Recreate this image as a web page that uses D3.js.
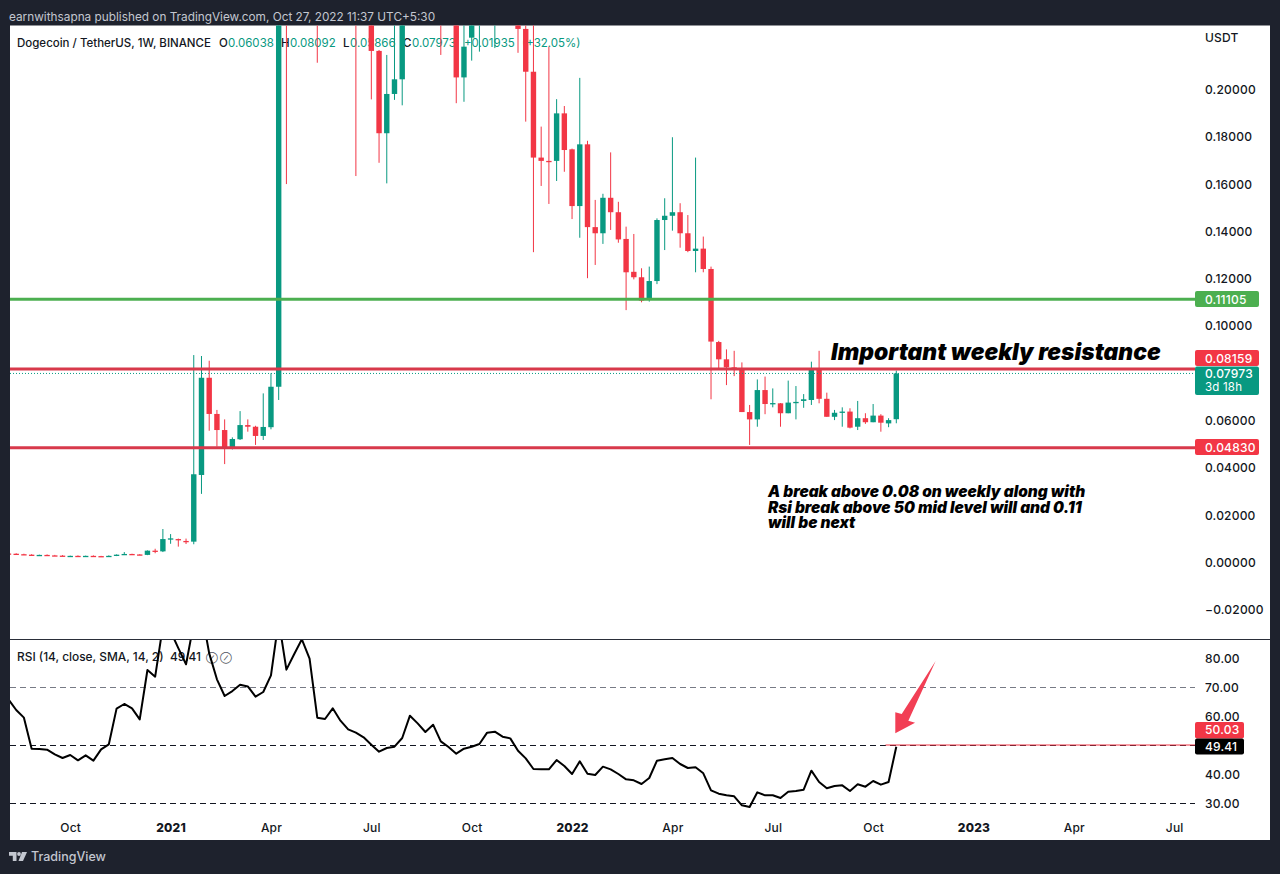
<!DOCTYPE html>
<html>
<head>
<meta charset="utf-8">
<script src="https://cdnjs.cloudflare.com/ajax/libs/d3/7.8.5/d3.min.js"></script>
<style>
  html, body { margin: 0; padding: 0; background: #1e222d; }
  svg { display: block; }
  text { font-family: Inter, "Noto Sans", sans-serif; }
  .axis text { font-size: 12px; fill: #131722; letter-spacing: 0.2px; font-weight: 500; }
  .axis path, .axis line { display: none; }
</style>
</head>
<body>
<div id="chart"></div>
<script>
// weekly candles. first one sits just behind the left edge
const opens = [
  .0036,.0035,.0033,.0031,.0028,.0030,.0028,.0027,.0025,.0026,
  .0025,.0026,.0025,.0025,.0026,.0031,.0034,.0032,.0030,.0048,
  .0045,.0096,.0097,.0089,.0086,.0368,.0779,.0626,.0558,.0481,
  .0519,.0579,.0572,.0533,.0570,.0741,.345,.31,.38,.40,
  .49,.36,.50,.40,.37,.33,.30,.32,.2161,.1813,
  .1979,.2041,.255,.27,.26,.29,.33,.25,.24,.2049,
  .2217,.242,.265,.27,.275,.28,.2654,.2254,.2073,.1710,
  .1696,.1696,.1897,.1745,.1505,.1766,.1416,.1390,.1540,.1479,
  .1366,.1227,.1204,.1108,.1188,.1446,.1464,.1479,.1390,.1315,
  .1325,.1239,.0930,.0857,.0823,.0812,.0634,.0603,.0727,.0670,
  .0671,.0629,.0675,.0681,.0685,.0815,.0690,.0614,.0634,.0636,
  .0572,.0608,.0591,.0619,.0586,.06038
];
const highs = [
  .0038,.0037,.0035,.0033,.0031,.0032,.0030,.0029,.0027,.0028,
  .0027,.0028,.0026,.0028,.0032,.0042,.0035,.0033,.0049,.0056,
  .01395,.0118,.0099,.0099,.0875,.0871,.0851,.0643,.0603,.0527,
  .0638,.0603,.0576,.0713,.0798,.35,.45,.42,.45,.70,
  .74,.55,.52,.47,.44,.45,.36,.34,.2165,.2144,
  .27,.29,.29,.29,.30,.35,.36,.27,.26,.25,
  .26,.275,.275,.29,.30,.31,.285,.2270,.26,.1841,
  .2179,.1957,.1928,.1748,.2047,.1781,.1531,.1557,.1732,.1523,
  .1418,.1387,.1242,.1249,.1453,.1538,.1796,.1517,.1467,.1710,
  .1376,.1249,.0935,.0899,.0893,.0844,.0664,.0772,.0784,.0734,
  .0672,.0767,.0744,.0710,.0847,.0893,.0716,.0643,.0654,.0650,
  .0681,.0629,.0668,.0625,.0608,.08092
];
const lows = [
  .0033,.0032,.0030,.0029,.0027,.0027,.0026,.0025,.0024,.0025,
  .0024,.0024,.0023,.0024,.0025,.0030,.0031,.0029,.0029,.0037,
  .0042,.0077,.0065,.0076,.0075,.0288,.0555,.0488,.0414,.0476,
  .0516,.0551,.0495,.0516,.0561,.0685,.1598,.26,.34,.38,
  .2111,.30,.36,.34,.32,.1632,.24,.1956,.1688,.1601,
  .1954,.1931,.235,.24,.25,.28,.2144,.235,.194,.1946,
  .2120,.2158,.24,.2173,.26,.255,.2153,.1862,.1310,.1590,
  .1514,.1611,.1650,.1450,.1371,.1200,.1256,.1345,.1404,.1350,
  .1065,.1195,.1098,.1101,.1175,.1319,.1401,.1329,.1310,.1225,
  .1225,.0688,.0819,.0748,.0786,.0634,.0495,.0572,.0625,.0654,
  .0572,.0629,.0603,.0652,.0664,.0671,.0614,.0600,.0572,.0565,
  .0558,.0584,.0591,.0551,.0570,.05866
];
const closes = [
  .0035,.0033,.0031,.0030,.0030,.0028,.0027,.0026,.0026,.0025,
  .0026,.0025,.0024,.0026,.0031,.0034,.0032,.0030,.0048,.0044,
  .0097,.0100,.0092,.0087,.0371,.0779,.0626,.0558,.0481,.0520,
  .0579,.0572,.0533,.0571,.0741,.33,.31,.38,.40,.49,
  .36,.50,.40,.37,.33,.30,.32,.2161,.1813,.1979,
  .2041,.255,.27,.26,.29,.33,.25,.24,.2049,.2179,
  .242,.265,.27,.275,.28,.2654,.2254,.2073,.1710,.1696,
  .1694,.1897,.1742,.1505,.1766,.1416,.1390,.1540,.1479,.1364,
  .1225,.1204,.1105,.1188,.1446,.1464,.1479,.1390,.1315,.1325,
  .1239,.0932,.0857,.0823,.0812,.0634,.0603,.0727,.0668,.0672,
  .0629,.0674,.0677,.0688,.0815,.0690,.0614,.0631,.0636,.0568,
  .0608,.0591,.0619,.0589,.0600,.07973
];
const rsiValues = [
  65.75,62.07,59.43,48.74,48.62,48.39,46.78,45.52,46.56,44.72,
  46.44,44.60,48.51,50.23,62.53,64.14,62.65,58.85,75.87,73.57,
  91.0,89.2,83.4,77.82,91.96,96.3,81.6,72.65,66.9,68.6,
  70.8,70.2,66.67,68.28,74.03,93.1,75.98,81.27,86.44,79.77,
  59.42,58.96,62.64,58.39,55.40,54.25,52.64,50.11,47.70,48.96,
  49.42,52.41,60.11,57.47,54.48,57.0,51.26,49.31,47.01,48.73,
  49.42,50.34,54.25,54.59,52.87,52.29,48.04,45.40,41.72,41.61,
  41.61,44.82,42.75,40.0,44.36,40.11,39.65,42.53,41.61,40.0,
  38.16,37.82,36.55,38.62,44.60,45.06,45.52,43.45,42.07,42.30,
  40.23,34.37,33.22,32.65,32.30,29.20,28.62,33.68,32.65,32.65,
  31.72,33.91,34.14,34.60,41.15,37.24,35.06,35.86,36.09,34.14,
  36.44,35.63,37.59,36.32,37.24,49.41
];

// 0.08 and 50 sit behind the price tags in the picture, so they are left out
const priceTicks = [-0.02, 0, 0.02, 0.04, 0.06, 0.1, 0.12, 0.14, 0.16, 0.18, 0.2];
const rsiTicks = [30, 40, 60, 70, 80];
const rsiBands = [
  { value: 70, color: "#787b86" },
  { value: 50, color: "#131722" },
  { value: 30, color: "#131722" }
];

const timeBars = [8, 21, 34, 47, 60, 73, 86, 99, 112, 125, 138, 151];
const timeLabels = ["Oct", "2021", "Apr", "Jul", "Oct", "2022", "Apr", "Jul", "Oct", "2023", "Apr", "Jul"];

const levels = [
  { value: 0.11105, color: "#4caf50", label: "0.11105", labelY: 299 },
  { value: 0.08159, color: "#d8394b", label: "0.08159", labelY: 358 },
  { value: 0.0483, color: "#d8394b", label: "0.04830", labelY: 447 }
];
const lastPrice = 0.07973;

// hand drawn arrow on the rsi pane, as [bar, rsi]
const arrowPoints = [
  [120.1, 78.97], [116.56, 58.38], [117.43, 57.69],
  [114.87, 54.03], [114.87, 61.28], [115.7, 60.69]
];
const rsiTrendStart = 113.6;
const rsiTrendValue = 50.03;

const noteLines = [
  "A break above 0.08 on weekly along with",
  "Rsi break above 50 mid level will and 0.11",
  "will be next"
];

const legendParts = [
  { x: 17, text: "Dogecoin / TetherUS, 1W, BINANCE", color: "#131722" },
  { x: 219, text: "O", color: "#131722" },
  { x: 228, text: "0.06038", color: "#089981" },
  { x: 281, text: "H", color: "#131722" },
  { x: 290, text: "0.08092", color: "#089981" },
  { x: 343, text: "L", color: "#131722" },
  { x: 350, text: "0.05866", color: "#089981" },
  { x: 403, text: "C", color: "#131722" },
  { x: 412, text: "0.07973", color: "#089981" },
  { x: 464, text: "+0.01935", color: "#089981" },
  { x: 522, text: "(+32.05%)", color: "#089981" }
];

const up = "#089981";
const down = "#f23645";
const width = 1280;
const height = 874;

const svg = d3.select("#chart").append("svg")
  .attr("width", width)
  .attr("height", height);

// white panel
svg.append("rect")
  .attr("x", 10).attr("y", 25.5)
  .attr("width", 1260).attr("height", 814.5)
  .attr("fill", "#ffffff");

const x = d3.scaleLinear().domain([0, 115]).range([8.48, 896.3]);
const y = d3.scaleLinear().domain([0, 0.2]).range([562, 89]);
const yRsi = d3.scaleLinear().domain([30, 80]).range([803, 658]);

const defs = svg.append("defs");
defs.append("clipPath").attr("id", "pricePane").append("rect")
  .attr("x", 10).attr("y", 25.5).attr("width", 1185).attr("height", 613.5);
defs.append("clipPath").attr("id", "rsiPane").append("rect")
  .attr("x", 10).attr("y", 640).attr("width", 1185).attr("height", 180);

// header + legends go under the candles, the bars cover them in the picture
svg.append("text")
  .attr("x", 9).attr("y", 21)
  .attr("font-size", 11.8)
  .attr("fill", "#c3c7d0")
  .text("earnwithsapna published on TradingView.com, Oct 27, 2022 11:37 UTC+5:30");

svg.selectAll(".legend")
  .data(legendParts)
  .enter().append("text")
  .attr("class", "legend")
  .attr("x", d => d.x).attr("y", 46.5)
  .attr("font-size", 11.5)
  .attr("font-weight", d => d.color === up ? 400 : 500)
  .attr("fill", d => d.color)
  .text(d => d.text);

svg.append("text")
  .attr("x", 17).attr("y", 661)
  .attr("font-size", 11.9)
  .attr("font-weight", 500)
  .attr("fill", "#131722")
  .text("RSI (14, close, SMA, 14, 2)");
svg.append("text")
  .attr("x", 170).attr("y", 661)
  .attr("font-size", 11.9)
  .attr("font-weight", 500)
  .attr("fill", "#131722")
  .text("49.41");
svg.append("text")
  .attr("x", 206).attr("y", 660.5)
  .attr("font-size", 8.5)
  .attr("fill", "#50535e")
  .text("⊘");
svg.append("text")
  .attr("x", 220).attr("y", 660.5)
  .attr("font-size", 8.5)
  .attr("fill", "#50535e")
  .text("⊘");

// candles
const bars = d3.range(opens.length);
const isUp = i => closes[i] >= opens[i];
const candles = svg.append("g").attr("clip-path", "url(#pricePane)");

candles.selectAll(".wick")
  .data(bars)
  .enter().append("line")
  .attr("class", "wick")
  .attr("x1", i => x(i)).attr("x2", i => x(i))
  .attr("y1", i => y(highs[i])).attr("y2", i => y(lows[i]))
  .attr("stroke", i => isUp(i) ? up : down)
  .attr("stroke-width", 1);

candles.selectAll(".body")
  .data(bars)
  .enter().append("rect")
  .attr("class", "body")
  .attr("x", i => x(i) - 2.7)
  .attr("width", 5.4)
  .attr("y", i => y(Math.max(opens[i], closes[i])))
  .attr("height", i => Math.max(1.3, Math.abs(y(opens[i]) - y(closes[i]))))
  .attr("fill", i => isUp(i) ? up : down);

// last price dotted line and the horizontal levels
svg.append("line")
  .attr("x1", 10).attr("x2", 1195)
  .attr("y1", y(lastPrice)).attr("y2", y(lastPrice))
  .attr("stroke", up)
  .attr("stroke-width", 1)
  .attr("stroke-dasharray", "1 2");

svg.selectAll(".level")
  .data(levels)
  .enter().append("line")
  .attr("class", "level")
  .attr("x1", 10).attr("x2", 1195)
  .attr("y1", d => y(d.value)).attr("y2", d => y(d.value))
  .attr("stroke", d => d.color)
  .attr("stroke-width", 3);

// price axis
svg.append("g")
  .attr("class", "axis")
  .attr("transform", "translate(1195,0.6)")
  .call(d3.axisRight(y).tickValues(priceTicks).tickFormat(d3.format(".5f")).tickSize(0).tickPadding(10));

svg.append("text")
  .attr("class", "usdt")
  .attr("x", 1205).attr("y", 42)
  .attr("font-size", 12)
  .attr("font-weight", 500)
  .attr("letter-spacing", 0.2)
  .attr("fill", "#131722")
  .text("USDT");

// price tags
svg.selectAll(".tag")
  .data(levels)
  .enter().append("rect")
  .attr("class", "tag")
  .attr("x", 1195).attr("width", 64)
  .attr("y", d => d.labelY - 8).attr("height", 16)
  .attr("rx", 2)
  .attr("fill", d => d.color === "#4caf50" ? "#4caf50" : down);

svg.selectAll(".tagText")
  .data(levels)
  .enter().append("text")
  .attr("class", "tagText")
  .attr("x", 1205).attr("y", d => d.labelY + 4.5)
  .attr("font-size", 12)
  .attr("font-weight", 500)
  .attr("letter-spacing", 0.2)
  .attr("fill", "#ffffff")
  .text(d => d.label);

svg.append("rect")
  .attr("x", 1195).attr("y", 366.5)
  .attr("width", 64).attr("height", 28.5)
  .attr("rx", 2)
  .attr("fill", up);
svg.append("text")
  .attr("x", 1205).attr("y", 378)
  .attr("font-size", 12).attr("font-weight", 500).attr("letter-spacing", 0.2)
  .attr("fill", "#ffffff")
  .text("0.07973");
svg.append("text")
  .attr("x", 1205).attr("y", 391)
  .attr("font-size", 11.5).attr("letter-spacing", 0.2)
  .attr("fill", "#ffffff")
  .text("3d 18h");

// annotations
svg.append("text")
  .attr("x", 831).attr("y", 359.5)
  .attr("font-size", 22.85)
  .attr("font-weight", 900)
  .attr("font-style", "italic")
  .attr("fill", "#000000")
  .text("Important weekly resistance");

svg.selectAll(".note")
  .data(noteLines)
  .enter().append("text")
  .attr("class", "note")
  .attr("x", 768)
  .attr("y", (d, i) => 497 + i * 15.5)
  .attr("font-size", 15.4)
  .attr("font-weight", 900)
  .attr("font-style", "italic")
  .attr("fill", "#000000")
  .text(d => d);

// pane divider
svg.append("line")
  .attr("x1", 10).attr("x2", 1270)
  .attr("y1", 639.5).attr("y2", 639.5)
  .attr("stroke", "#2a2e39")
  .attr("stroke-width", 1);

// rsi pane
svg.selectAll(".band")
  .data(rsiBands)
  .enter().append("line")
  .attr("class", "band")
  .attr("x1", 10).attr("x2", 1195)
  .attr("y1", d => yRsi(d.value) + 0.5).attr("y2", d => yRsi(d.value) + 0.5)
  .attr("stroke", d => d.color)
  .attr("stroke-width", 1)
  .attr("stroke-dasharray", "6 4");

const rsiG = svg.append("g").attr("clip-path", "url(#rsiPane)");

rsiG.append("line")
  .attr("x1", x(rsiTrendStart)).attr("x2", 1195)
  .attr("y1", yRsi(rsiTrendValue)).attr("y2", yRsi(rsiTrendValue))
  .attr("stroke", down)
  .attr("stroke-opacity", 0.5)
  .attr("stroke-width", 2);

const rsiLine = d3.line()
  .x((d, i) => x(i))
  .y(d => yRsi(d));

rsiG.append("path")
  .attr("d", rsiLine(rsiValues))
  .attr("fill", "none")
  .attr("stroke", "#000000")
  .attr("stroke-width", 2)
  .attr("stroke-linejoin", "round");

svg.append("polygon")
  .attr("points", arrowPoints.map(p => [x(p[0]), yRsi(p[1])].join(",")).join(" "))
  .attr("fill", "#f23f55");

svg.append("g")
  .attr("class", "axis")
  .attr("transform", "translate(1195,0.6)")
  .call(d3.axisRight(yRsi).tickValues(rsiTicks).tickFormat(d3.format(".2f")).tickSize(0).tickPadding(10));

svg.append("rect")
  .attr("x", 1195).attr("y", yRsi(rsiTrendValue) - 23)
  .attr("width", 49).attr("height", 16.5)
  .attr("rx", 2)
  .attr("fill", down);
svg.append("text")
  .attr("x", 1205).attr("y", yRsi(rsiTrendValue) - 10.5)
  .attr("font-size", 12).attr("font-weight", 500).attr("letter-spacing", 0.2)
  .attr("fill", "#ffffff")
  .text("50.03");
svg.append("rect")
  .attr("x", 1195).attr("y", yRsi(rsiTrendValue) - 6.5)
  .attr("width", 49).attr("height", 16)
  .attr("rx", 2)
  .attr("fill", "#000000");
svg.append("text")
  .attr("x", 1205).attr("y", yRsi(rsiTrendValue) + 6)
  .attr("font-size", 12).attr("font-weight", 500).attr("letter-spacing", 0.2)
  .attr("fill", "#ffffff")
  .text("49.41");

// time axis, bar index -> month label
const timeAxis = svg.append("g")
  .attr("class", "axis")
  .attr("transform", "translate(0,819)")
  .call(d3.axisBottom(x).tickValues(timeBars).tickFormat((d, i) => timeLabels[i]).tickSize(0).tickPadding(4));
timeAxis.selectAll("text")
  .style("font-weight", (d, i) => /^\d+$/.test(timeLabels[i]) ? 800 : 500);

// footer logo
const logo = svg.append("g").attr("transform", "translate(9,852)").attr("fill", "#c3c7d0");
logo.append("path").attr("d", "M0 0H7.5V9H3.8V3.7H0Z");
logo.append("circle").attr("cx", 10).attr("cy", 2).attr("r", 1.9);
logo.append("path").attr("d", "M13 0H18L14 9H9.5Z");
svg.append("text")
  .attr("x", 31).attr("y", 861)
  .attr("font-size", 12.5)
  .attr("font-weight", 500)
  .attr("fill", "#c3c7d0")
  .text("TradingView");
</script>
</body>
</html>
